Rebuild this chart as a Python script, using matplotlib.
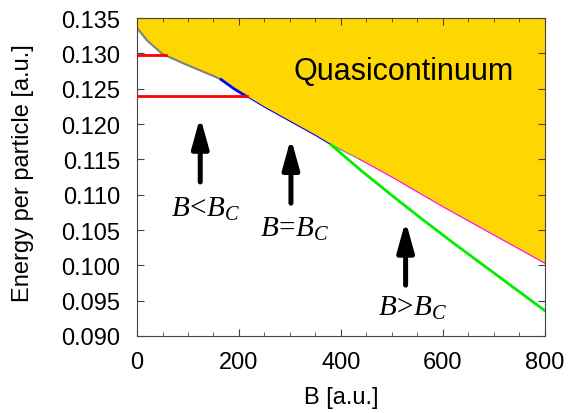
import numpy as np
import matplotlib.pyplot as plt
from matplotlib.ticker import MultipleLocator

# 准连续谱下边界
edge_B = [0, 20, 50, 100, 150, 165, 190, 215, 250, 300, 350, 380, 437, 500, 600, 700, 800]
edge_E = [0.1336, 0.1318, 0.1299, 0.1283, 0.1268, 0.1263, 0.1250, 0.1239, 0.1224,
          0.1204, 0.1184, 0.1171, 0.1150, 0.1125, 0.1083, 0.1043, 0.1003]

# 绿色曲线 (B > B_C)
green_B = [380, 440, 500, 560, 620, 680, 740, 800]
green_E = [0.1171, 0.1134, 0.1099, 0.1065, 0.1032, 0.1000, 0.0968, 0.0936]

# 红色水平线
red_E = [0.1298, 0.1239]
red_end = [57, 215]

# 箭头和标注
arrow_B = [124, 302, 527]
arrow_tail = [0.1118, 0.1088, 0.0972]
arrow_tip = [0.1210, 0.1180, 0.1063]
label_B = [135, 310, 541]
label_E = [0.1081, 0.1053, 0.0941]
labels = [r'$B\!<\!B_C$', r'$B\!=\!B_C$', r'$B\!>\!B_C$']

plt.rcParams['font.family'] = ['Liberation Sans', 'DejaVu Sans']
plt.rcParams['mathtext.fontset'] = 'custom'
plt.rcParams['mathtext.it'] = 'Liberation Serif:italic'
plt.rcParams['mathtext.rm'] = 'Liberation Serif'

fig = plt.figure(figsize=(5.71, 4.14), dpi=100)
ax = fig.add_axes([0.240, 0.186, 0.714, 0.768])

edge_B = np.array(edge_B)
edge_E = np.array(edge_E)
ax.fill_between(edge_B, edge_E, 0.135, color='#ffd700', lw=0, zorder=1)

def seg(b0, b1):
    m = (edge_B >= b0) & (edge_B <= b1)
    return edge_B[m], edge_E[m]

x, y = seg(0, 165)
ax.plot(x, y, color='gray', lw=1.5, zorder=2)
x, y = seg(165, 215)
ax.plot(x, y, color='blue', lw=2, zorder=2)
x, y = seg(215, 380)
ax.plot(x, y, color='blue', lw=0.8, zorder=2)
x, y = seg(380, 437)
ax.plot(x, y, color='gray', lw=0.8, zorder=2)
x, y = seg(437, 800)
ax.plot(x, y, color='magenta', lw=0.8, zorder=2)

ax.plot(green_B, green_E, color='#00ee00', lw=2, zorder=3)
for e, b in zip(red_E, red_end):
    ax.plot([0, b], [e, e], color='red', lw=2, zorder=3)

for b, t0, t1 in zip(arrow_B, arrow_tail, arrow_tip):
    ax.annotate('', xy=(b, t1), xytext=(b, t0),
                arrowprops=dict(arrowstyle='-|>,head_length=1.8,head_width=0.5',
                                mutation_scale=10, color='black', lw=3.6,
                                shrinkA=0, shrinkB=0))
for b, e, s in zip(label_B, label_E, labels):
    ax.text(b, e, s, fontsize=21, ha='center', va='center')

ax.text(524, 0.1275, 'Quasicontinuum', fontsize=22, ha='center', va='center')

ax.set_xlim(0, 800)
ax.set_ylim(0.090, 0.135)
ax.xaxis.set_major_locator(MultipleLocator(200))
ax.xaxis.set_minor_locator(MultipleLocator(50))
ax.yaxis.set_major_locator(MultipleLocator(0.005))
ax.yaxis.set_major_formatter(plt.FormatStrFormatter('%.3f'))
ax.tick_params(direction='in', which='both', top=True, right=True,
               labelsize=17, color='#444444')
ax.tick_params(axis='y', pad=12)
ax.tick_params(axis='x', pad=11)
ax.tick_params(which='major', length=5)
ax.tick_params(which='minor', length=3)
for sp in ax.spines.values():
    sp.set_color('#444444')
ax.set_xlabel('B [a.u.]', fontsize=17)
ax.set_ylabel('Energy per particle [a.u.]', fontsize=17)
ax.xaxis.set_label_coords(0.5, -0.157)
ax.yaxis.set_label_coords(-0.279, 0.516)
ax.yaxis.label.set_verticalalignment('center')

fig.savefig('out.png', dpi=100)
